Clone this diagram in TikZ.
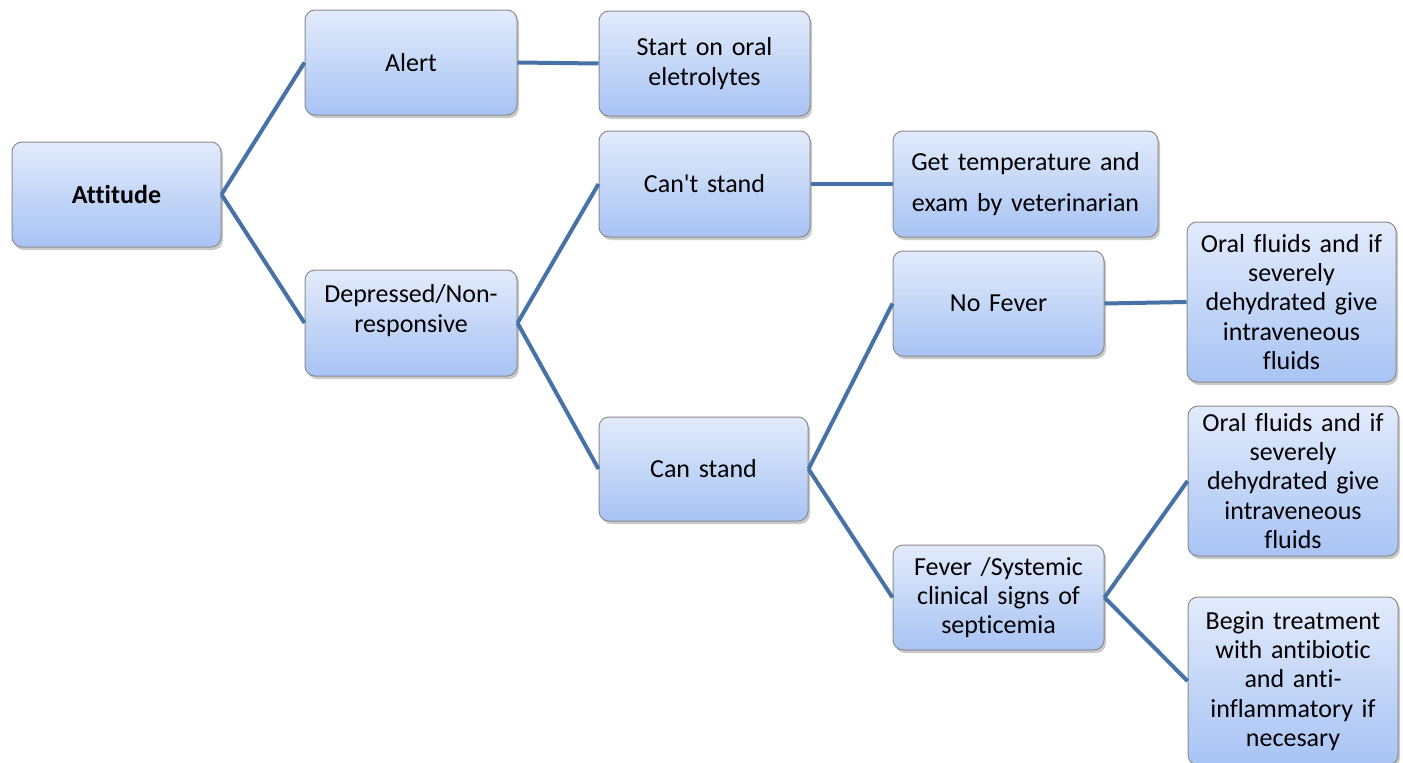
\documentclass[tikz,border=0pt]{standalone}
\usepackage{fontspec}
\setmainfont{Carlito}[Ligatures=NoCommon]
\usetikzlibrary{shadows}
\definecolor{linkblue}{HTML}{4672A8}
\definecolor{boxtop}{HTML}{E2EBFB}
\definecolor{boxbot}{HTML}{A8C3F4}
\definecolor{boxline}{HTML}{8C8C8C}
\tikzset{
  box/.style={draw=boxline, line width=1pt, rounded corners=10pt,
    top color=boxtop, bottom color=boxbot,
    drop shadow={shadow xshift=2pt, shadow yshift=-3pt, opacity=0.35, fill=black!60},
    align=center, inner sep=2pt, font=\fontsize{26}{29.3}\selectfont},
  link/.style={draw=linkblue, line width=4pt}
}
\begin{document}
\begin{tikzpicture}[x=1pt,y=-1pt]
\useasboundingbox (0,0) rectangle (1403,763);
\node[box, minimum width=209pt, minimum height=105pt, text width=200pt] (att) at (116.5,194.5) {\textbf{Attitude}};
\node[box, minimum width=212pt, minimum height=105pt, text width=200pt] (alert) at (411,62.5) {Alert};
\node[box, minimum width=212pt, minimum height=106pt, text width=200pt] (dep) at (411,323) {Depressed/Non-\\responsive\\\mbox{}};
\node[box, minimum width=211pt, minimum height=105pt, text width=200pt] (start) at (704.5,63.5) {Start on oral\\eletrolytes};
\node[box, minimum width=211pt, minimum height=106pt, text width=200pt] (cant) at (704.5,184) {Can\textquotesingle t stand};
\node[box, minimum width=209pt, minimum height=104pt, text width=200pt] (can) at (703.5,469) {Can stand};
\node[box, minimum width=265pt, minimum height=106pt, text width=255pt] (temp) at (1025.5,184) {Get temperature and\\[11pt]exam by veterinarian};
\node[box, minimum width=211pt, minimum height=105pt, text width=200pt] (nofev) at (998.5,303.5) {No Fever};
\node[box, minimum width=211pt, minimum height=105pt, text width=200pt] (fev) at (998.5,597.5) {Fever /Systemic\\clinical signs of\\septicemia};
\node[box, minimum width=209pt, minimum height=160pt, text width=200pt] (oral1) at (1291.5,302) {Oral fluids and if\\severely\\dehydrated give\\intraveneous\\fluids};
\node[box, minimum width=210pt, minimum height=150pt, text width=200pt] (oral2) at (1293,481) {Oral fluids and if\\severely\\dehydrated give\\intraveneous\\fluids};
\node[box, minimum width=210pt, minimum height=168pt, text width=200pt] (begin) at (1293,681) {Begin treatment\\with antibiotic\\and anti-\\inflammatory if\\necesary};
\draw[link] (att.east) -- (alert.west);
\draw[link] (att.east) -- (dep.west);
\draw[link] (alert.east) -- (start.west);
\draw[link] (dep.east) -- (cant.west);
\draw[link] (dep.east) -- (can.west);
\draw[link] (cant.east) -- (temp.west);
\draw[link] (can.east) -- (nofev.west);
\draw[link] (can.east) -- (fev.west);
\draw[link] (nofev.east) -- (oral1.west);
\draw[link] (fev.east) -- (oral2.west);
\draw[link] (fev.east) -- (begin.west);
\end{tikzpicture}
\end{document}
